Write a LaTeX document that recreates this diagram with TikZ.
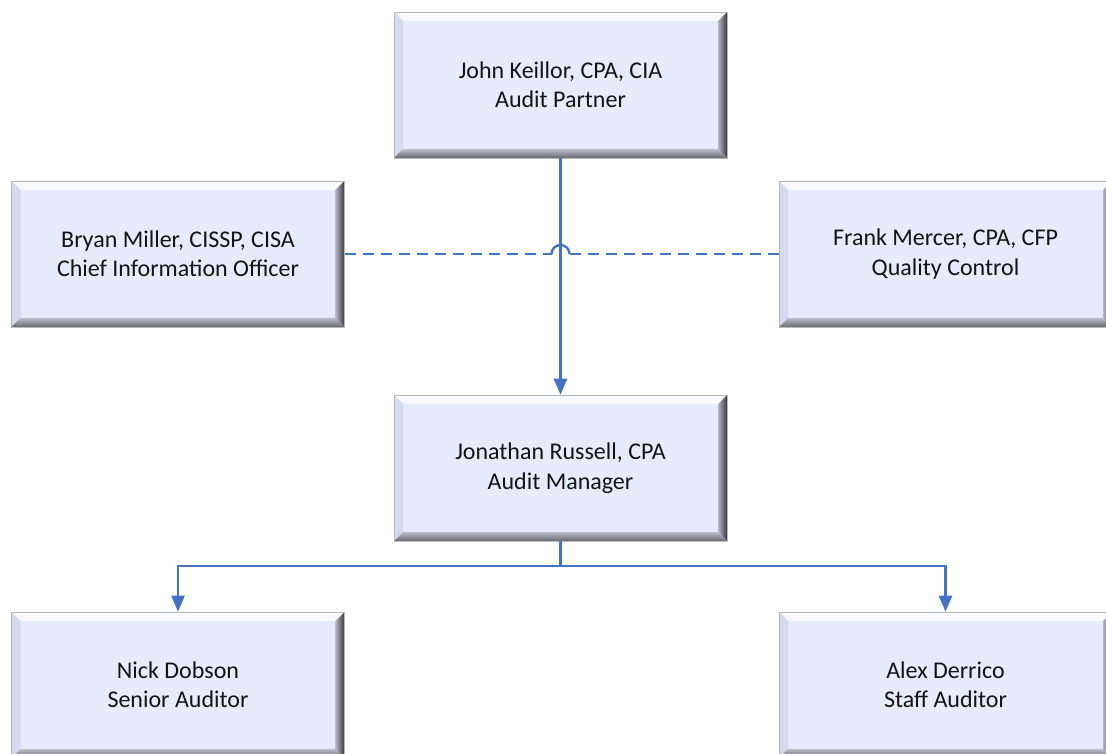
\documentclass[tikz,border=0pt]{standalone}
\usepackage{fontspec}
\setmainfont{Carlito}
\usetikzlibrary{arrows.meta,calc}
\definecolor{boxfill}{RGB}{230,236,251}
\definecolor{bevtop}{RGB}{248,250,255}
\definecolor{bevleft}{RGB}{212,219,238}
\definecolor{bevrin}{RGB}{180,184,198}
\definecolor{bevrout}{RGB}{55,56,62}
\definecolor{bevbin}{RGB}{185,189,200}
\definecolor{bevbout}{RGB}{105,106,112}
\definecolor{linkblue}{RGB}{68,114,196}
\definecolor{txt}{RGB}{20,20,20}
\newcommand{\bvw}{9pt}
\tikzset{
  orgbox/.style={minimum width=333pt, minimum height=146pt, inner sep=0pt,
    fill=boxfill, draw=gray!55, line width=0.6pt, align=center, text=txt,
    font=\fontsize{24pt}{29.5pt}\selectfont,
    path picture={
      \path (path picture bounding box.north west) coordinate (pNW)
            (path picture bounding box.north east) coordinate (pNE)
            (path picture bounding box.south west) coordinate (pSW)
            (path picture bounding box.south east) coordinate (pSE);
      \fill[bevtop] (pNW) -- (pNE) -- ([shift={(-\bvw,-\bvw)}]pNE) -- ([shift={(\bvw,-\bvw)}]pNW) -- cycle;
      \fill[bevleft] (pNW) -- ([shift={(\bvw,-\bvw)}]pNW) -- ([shift={(\bvw,\bvw)}]pSW) -- (pSW) -- cycle;
      \shade[left color=bevrin, right color=bevrout] (pNE) -- (pSE) -- ([shift={(-\bvw,\bvw)}]pSE) -- ([shift={(-\bvw,-\bvw)}]pNE) -- cycle;
      \shade[top color=bevbin, bottom color=bevbout] (pSW) -- (pSE) -- ([shift={(-\bvw,\bvw)}]pSE) -- ([shift={(\bvw,\bvw)}]pSW) -- cycle;
    }},
  conn/.style={draw=linkblue, line width=2.4pt},
  arr/.style={conn, -{Triangle[width=13pt,length=16pt]}},
  dashconn/.style={draw=linkblue, line width=2.4pt, dash pattern=on 11pt off 7pt}
}
\begin{document}
\begin{tikzpicture}[x=1pt,y=1pt]
\useasboundingbox (0,0) rectangle (1106,753);
\clip (0,0) rectangle (1106,753);
\node[orgbox] (top) at (560.5,668) {John Keillor, CPA, CIA\\Audit Partner};
\node[orgbox] (left) at (178,499) {Bryan Miller, CISSP, CISA\\Chief Information Officer};
\node[orgbox] (right) at (945.5,499) {Frank Mercer, CPA, CFP\\Quality Control};
\node[orgbox] (mid) at (560.5,285) {Jonathan Russell, CPA\\Audit Manager};
\node[orgbox] (bl) at (178,68) {Nick Dobson\\Senior Auditor};
\node[orgbox] (br) at (945.5,68) {Alex Derrico\\Staff Auditor};
% vertical reporting line
\draw[arr] (top.south) -- (mid.north);
% dashed advisory line with a hop over the vertical line
\coordinate (hop) at (top.south |- left.east);
\coordinate (hopL) at ([xshift=-9pt]hop);
\coordinate (hopR) at ([xshift=9pt]hop);
\draw[dashconn] (left.east) -- (hopL);
\draw[conn] (hopL) arc[start angle=180, end angle=0, radius=9pt];
\draw[dashconn] (right.west) -- (hopR);
% bottom tree
\coordinate (split) at ($(mid.south)+(0,-25)$);
\draw[conn] (mid.south) -- (split);
\draw[arr] (split) -| (bl.north);
\draw[arr] (split) -| (br.north);
\end{tikzpicture}
\end{document}
